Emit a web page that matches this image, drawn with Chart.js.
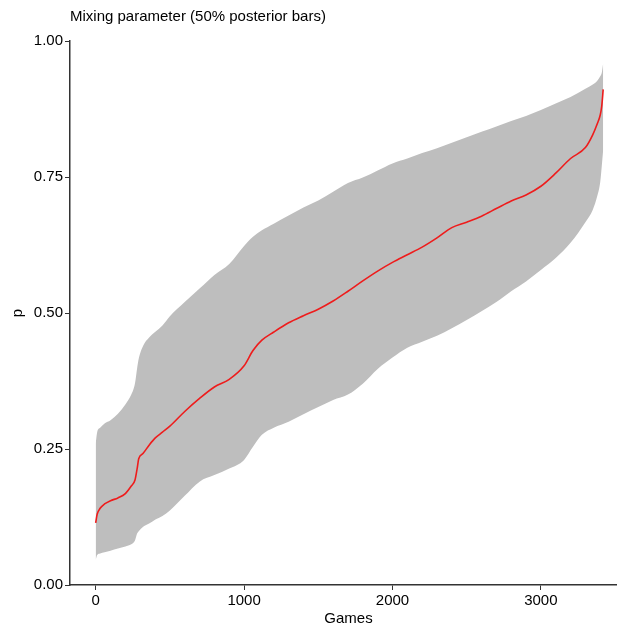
<!DOCTYPE html>
<html>
<head>
<meta charset="utf-8">
<script src="https://cdn.jsdelivr.net/npm/chart.js@4.4.1/dist/chart.umd.min.js"></script>
<style>
  html, body { margin: 0; padding: 0; background: #fff; }
  #wrap { width: 617px; height: 626px; position: relative; }
</style>
</head>
<body>
<div id="wrap"><canvas id="chart"></canvas></div>
<script>
// games index (sorted by posterior median)
const games = [0, 10, 30, 60, 100, 150, 200, 240, 265, 280, 290, 320, 360, 400, 450, 500, 600, 700, 800, 900,
  1000, 1060, 1120, 1200, 1300, 1400, 1500, 1600, 1700, 1800, 1900, 2000, 2100, 2200, 2300, 2400, 2500,
  2600, 2700, 2800, 2900, 3000, 3100, 3200, 3300, 3350, 3380, 3400, 3410, 3420];

const median = [0.114, 0.130, 0.141, 0.149, 0.155, 0.160, 0.168, 0.182, 0.193, 0.215, 0.232, 0.242, 0.257, 0.270, 0.281, 0.292, 0.319, 0.343, 0.364, 0.378,
  0.403, 0.431, 0.450, 0.465, 0.482, 0.495, 0.507, 0.522, 0.540, 0.559, 0.577, 0.593, 0.607, 0.621, 0.638, 0.657, 0.667,
  0.678, 0.692, 0.706, 0.717, 0.733, 0.757, 0.784, 0.804, 0.828, 0.848, 0.864, 0.880, 0.911];

const upper = [0.260, 0.281, 0.289, 0.297, 0.303, 0.315, 0.332, 0.350, 0.371, 0.400, 0.416, 0.440, 0.455, 0.465, 0.477, 0.494, 0.520, 0.545, 0.570, 0.590,
  0.623, 0.640, 0.652, 0.664, 0.679, 0.694, 0.707, 0.723, 0.739, 0.749, 0.762, 0.775, 0.784, 0.794, 0.803, 0.813, 0.823,
  0.833, 0.843, 0.853, 0.862, 0.873, 0.885, 0.897, 0.912, 0.920, 0.927, 0.935, 0.941, 0.959];

const lower = [0.046, 0.055, 0.058, 0.060, 0.063, 0.067, 0.071, 0.075, 0.082, 0.095, 0.099, 0.107, 0.113, 0.120, 0.127, 0.137, 0.164, 0.190, 0.202, 0.214,
  0.230, 0.254, 0.276, 0.289, 0.300, 0.314, 0.327, 0.340, 0.350, 0.370, 0.397, 0.418, 0.436, 0.447, 0.458, 0.472, 0.487,
  0.503, 0.520, 0.540, 0.558, 0.579, 0.601, 0.629, 0.667, 0.690, 0.715, 0.741, 0.769, 0.800];

const xTicks = [0, 1000, 2000, 3000];
const yTicks = [0, 0.25, 0.5, 0.75, 1];

const FONT = 'Liberation Sans, Arial, sans-serif';
const AXIS = '#333333';

const toPts = (ys) => games.map((g, i) => ({ x: g, y: ys[i] }));

// titles drawn by hand so they sit where the reference puts them
const labelsPlugin = {
  id: 'labels',
  afterDraw(chart) {
    const { ctx, chartArea } = chart;
    ctx.save();
    ctx.fillStyle = '#000';
    ctx.font = '15px ' + FONT;
    ctx.textAlign = 'left';
    ctx.textBaseline = 'middle';
    ctx.fillText('Mixing parameter (50% posterior bars)', chartArea.left, 17);

    ctx.textAlign = 'center';
    ctx.fillText('Games', (chartArea.left + chartArea.right) / 2 + 5, 619);

    ctx.translate(18, (chartArea.top + chartArea.bottom) / 2);
    ctx.rotate(-Math.PI / 2);
    ctx.fillText('p', 0, 0);
    ctx.restore();
  }
};

new Chart(document.getElementById('chart'), {
  type: 'line',
  data: {
    datasets: [
      {
        label: 'lower',
        data: toPts(lower),
        borderWidth: 0,
        pointRadius: 0,
        fill: false,
        cubicInterpolationMode: 'monotone',
        order: 3
      },
      {
        label: 'upper',
        data: toPts(upper),
        borderWidth: 0,
        pointRadius: 0,
        backgroundColor: '#bebebe',
        fill: '-1',
        cubicInterpolationMode: 'monotone',
        order: 2
      },
      {
        label: 'median',
        data: toPts(median),
        borderColor: '#ee1c1c',
        borderWidth: 1.6,
        pointRadius: 0,
        fill: false,
        cubicInterpolationMode: 'monotone',
        order: 1
      }
    ]
  },
  options: {
    responsive: true,
    maintainAspectRatio: false,
    animation: false,
    layout: { padding: { top: 41, right: 0, left: 0, bottom: 0 } },
    plugins: {
      legend: { display: false },
      tooltip: { enabled: false }
    },
    scales: {
      x: {
        type: 'linear',
        min: -173,
        max: 3513,
        afterBuildTicks: (scale) => { scale.ticks = xTicks.map(v => ({ value: v })); },
        afterFit: (scale) => { scale.height = 41; },
        grid: { drawOnChartArea: false, drawTicks: true, tickLength: 5, color: AXIS, lineWidth: 1 },
        border: { display: true, color: AXIS, width: 1.5 },
        ticks: {
          color: '#000',
          font: { family: FONT, size: 15 },
          padding: 2,
          maxRotation: 0,
          callback: (v) => String(v)
        }
      },
      y: {
        type: 'linear',
        min: 0,
        max: 1,
        afterBuildTicks: (scale) => { scale.ticks = yTicks.map(v => ({ value: v })); },
        afterFit: (scale) => { scale.width = 70; },
        grid: { drawOnChartArea: false, drawTicks: true, tickLength: 5, color: AXIS, lineWidth: 1 },
        border: { display: true, color: AXIS, width: 1.5 },
        ticks: {
          color: '#000',
          font: { family: FONT, size: 15 },
          padding: 2,
          callback: (v) => Number(v).toFixed(2)
        }
      }
    }
  },
  plugins: [labelsPlugin]
});
</script>
</body>
</html>
